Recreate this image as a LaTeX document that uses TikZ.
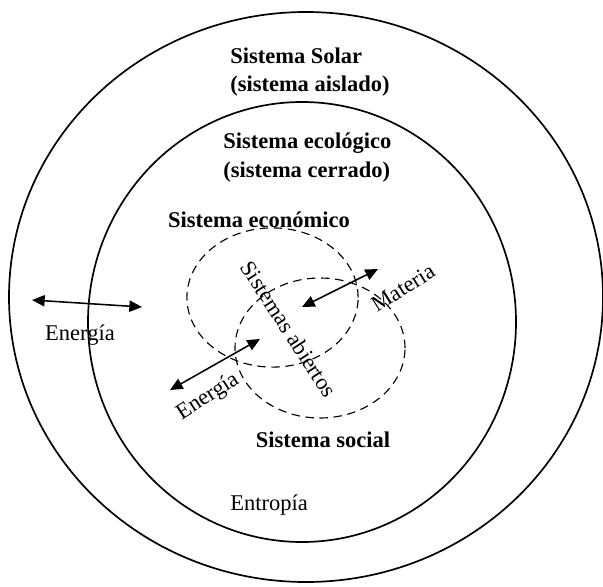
\documentclass[tikz,border=0pt]{standalone}
\usepackage{fontspec}
\setmainfont{Liberation Serif}
\usetikzlibrary{arrows.meta,positioning}

\begin{document}
\begin{tikzpicture}[
    font=\fontsize{16}{20}\selectfont,
    ring/.style={line width=1.2pt},
    opensys/.style={dashed, dash pattern=on 6pt off 4pt, line width=0.8pt},
    flow/.style={{Triangle[length=9pt,width=8pt]}-{Triangle[length=9pt,width=8pt]}, line width=1.1pt},
    title/.style={font=\fontsize{16}{20}\selectfont\bfseries, align=left, inner sep=0pt}
]
  \useasboundingbox (0,0) rectangle (15.075,14.65);

  % =========================================================================
  % SISTEMAS (ELIPSES)
  % =========================================================================
  \draw[ring] (7.65,7.225) ellipse [x radius=7.425cm, y radius=7.125cm];
  \draw[ring] (7.55,6.6) ellipse [x radius=5.35cm, y radius=5.5cm];
  \draw[opensys] (6.8125,7.2125) ellipse [x radius=2.14cm, y radius=1.74cm];
  \draw[opensys] (8.0,5.95) ellipse [x radius=2.125cm, y radius=1.75cm];

  % =========================================================================
  % TITULOS
  % =========================================================================
  \node[title, anchor=west] (t_solar) at (5.75,12.85) {Sistema Solar\\(sistema aislado)};
  \node[title, anchor=west] (t_eco) at (5.575,10.71) {Sistema ecológico\\(sistema cerrado)};
  \node[title] (t_econ) at (6.475,9.15) {Sistema económico};
  \node[title] (t_soc) at (8.075,3.65) {Sistema social};
  \node (t_entr) at (6.725,2.025) {Entropía};

  % =========================================================================
  % FLUJOS
  % =========================================================================
  \coordinate (e1_a) at (0.8,7.15);
  \coordinate (e1_b) at (3.55,6.975);
  \draw[flow] (e1_a) -- (e1_b);
  \node (l_e1) at (2.0,6.275) {Energía};

  \coordinate (m_a) at (7.55,6.975);
  \coordinate (m_b) at (9.45,7.925);
  \draw[flow] (m_a) -- (m_b);
  \node[rotate=32] (l_m) at (10.075,7.45) {Materia};

  \coordinate (e2_a) at (4.25,4.9);
  \coordinate (e2_b) at (6.5,6.175);
  \draw[flow] (e2_a) -- (e2_b);
  \node[rotate=33] (l_e2) at (5.2,4.725) {Energía};

  \node[rotate=-57] (l_open) at (7.225,6.425) {Sistemas abiertos};

\end{tikzpicture}
\end{document}
